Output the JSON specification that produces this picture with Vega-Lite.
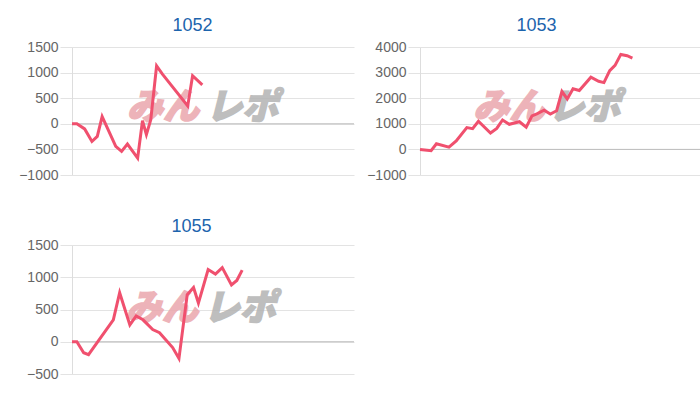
{
  "$schema": "https://vega.github.io/schema/vega-lite/v6.json",
  "background": "white",
  "padding": {"left": 18, "top": 17, "right": 5, "bottom": 5},
  "spacing": 36,
  "datasets": {
    "p1052": [
      {"n": 0, "v": 0}, {"n": 1, "v": 0}, {"n": 2.6, "v": -100}, {"n": 4.1, "v": -345},
      {"n": 5.2, "v": -245}, {"n": 6.2, "v": 140}, {"n": 9, "v": -440}, {"n": 10.2, "v": -540},
      {"n": 11.4, "v": -395}, {"n": 13.5, "v": -670}, {"n": 14.5, "v": 60}, {"n": 15.3, "v": -210},
      {"n": 16.2, "v": 80}, {"n": 17.4, "v": 1130}, {"n": 18.6, "v": 970}, {"n": 23.8, "v": 350},
      {"n": 24.8, "v": 940}, {"n": 26.8, "v": 760}
    ],
    "p1053": [
      {"n": 0, "v": 0}, {"n": 2.3, "v": -50}, {"n": 3.4, "v": 220}, {"n": 6, "v": 90},
      {"n": 7.5, "v": 330}, {"n": 9.7, "v": 850}, {"n": 10.9, "v": 810}, {"n": 12.1, "v": 1100},
      {"n": 14.6, "v": 640}, {"n": 15.9, "v": 820}, {"n": 17.1, "v": 1150}, {"n": 18.5, "v": 980},
      {"n": 20.6, "v": 1080}, {"n": 22, "v": 870}, {"n": 23.2, "v": 1310}, {"n": 24.2, "v": 1390},
      {"n": 25.7, "v": 1530}, {"n": 27, "v": 1380}, {"n": 28.3, "v": 1510}, {"n": 29.4, "v": 2260},
      {"n": 30.5, "v": 1970}, {"n": 31.7, "v": 2370}, {"n": 33, "v": 2300}, {"n": 35.4, "v": 2820},
      {"n": 37, "v": 2660}, {"n": 38.1, "v": 2610}, {"n": 39.3, "v": 3080}, {"n": 40.4, "v": 3280},
      {"n": 41.6, "v": 3710}, {"n": 42.9, "v": 3660}, {"n": 44, "v": 3570}
    ],
    "p1055": [
      {"n": 0, "v": 0}, {"n": 1, "v": 0}, {"n": 2.4, "v": -170}, {"n": 3.4, "v": -200},
      {"n": 8.5, "v": 340}, {"n": 9.8, "v": 760}, {"n": 11.9, "v": 260}, {"n": 13.2, "v": 400},
      {"n": 14.6, "v": 340}, {"n": 16.6, "v": 190}, {"n": 18, "v": 140}, {"n": 20.7, "v": -90},
      {"n": 22, "v": -260}, {"n": 23.7, "v": 730}, {"n": 25, "v": 840}, {"n": 26, "v": 600},
      {"n": 28, "v": 1120}, {"n": 29.5, "v": 1050}, {"n": 30.9, "v": 1150}, {"n": 32.8, "v": 880},
      {"n": 33.9, "v": 950}, {"n": 35, "v": 1110}
    ],
    "one": [{}]
  },
  "vconcat": [
    {
      "spacing": 11,
      "hconcat": [
        {
          "width": 282, "height": 128,
          "title": {"text": "1052", "dx": 6, "offset": 5},
          "layer": [
            {"data": {"name": "p1052"}, "mark": {"type": "line", "color": "#f0506e", "strokeWidth": 3, "opacity": 0},
             "encoding": {
               "x": {"field": "n", "type": "quantitative", "scale": {"domain": [0, 58], "nice": false, "zero": false}, "axis": null},
               "y": {"field": "v", "type": "quantitative", "scale": {"domain": [-1000, 1500], "nice": false}, "axis": {"values": [-1000, -500, 0, 500, 1000, 1500], "tickCount": 20, "grid": true, "format": "d", "labelOverlap": false, "labelFontSize": 14}}
             }},
            {"data": {"name": "one"}, "mark": {"type": "text", "text": "みん", "font": "Noto Sans CJK JP", "fontSize": 36, "fontWeight": 900, "fontStyle": "italic", "color": "#eba6ad", "stroke": "#eba6ad", "strokeWidth": 1.5, "opacity": 0.85},
             "encoding": {"x": {"datum": 18.7, "type": "quantitative"}, "y": {"datum": 300, "type": "quantitative"}}},
            {"data": {"name": "one"}, "mark": {"type": "text", "text": "レポ", "font": "Noto Sans CJK JP", "fontSize": 36, "fontWeight": 900, "fontStyle": "italic", "color": "#b3b3b3", "stroke": "#b3b3b3", "strokeWidth": 1.5, "opacity": 0.85},
             "encoding": {"x": {"datum": 35, "type": "quantitative"}, "y": {"datum": 300, "type": "quantitative"}}},
            {"data": {"name": "one"}, "mark": {"type": "rule", "color": "#bdbdbd", "strokeWidth": 1},
             "encoding": {"y": {"datum": 0, "type": "quantitative"}}},
            {"data": {"name": "p1052"}, "mark": {"type": "line", "color": "#f0506e", "strokeWidth": 3, "strokeJoin": "miter"},
             "encoding": {"x": {"field": "n", "type": "quantitative"}, "y": {"field": "v", "type": "quantitative"}}}
          ]
        },
        {
          "width": 280, "height": 128,
          "title": {"text": "1053", "dx": 3, "offset": 5},
          "layer": [
            {"data": {"name": "p1053"}, "mark": {"type": "line", "color": "#f0506e", "strokeWidth": 3, "opacity": 0},
             "encoding": {
               "x": {"field": "n", "type": "quantitative", "scale": {"domain": [0, 58], "nice": false, "zero": false}, "axis": null},
               "y": {"field": "v", "type": "quantitative", "scale": {"domain": [-1000, 4000], "nice": false}, "axis": {"values": [-1000, 0, 1000, 2000, 3000, 4000], "tickCount": 20, "grid": true, "format": "d", "labelOverlap": false, "labelFontSize": 14}}
             }},
            {"data": {"name": "one"}, "mark": {"type": "text", "text": "みん", "font": "Noto Sans CJK JP", "fontSize": 36, "fontWeight": 900, "fontStyle": "italic", "color": "#eba6ad", "stroke": "#eba6ad", "strokeWidth": 1.5, "opacity": 0.85},
             "encoding": {"x": {"datum": 18.5, "type": "quantitative"}, "y": {"datum": 1610, "type": "quantitative"}}},
            {"data": {"name": "one"}, "mark": {"type": "text", "text": "レポ", "font": "Noto Sans CJK JP", "fontSize": 36, "fontWeight": 900, "fontStyle": "italic", "color": "#b3b3b3", "stroke": "#b3b3b3", "strokeWidth": 1.5, "opacity": 0.85},
             "encoding": {"x": {"datum": 34, "type": "quantitative"}, "y": {"datum": 1610, "type": "quantitative"}}},
            {"data": {"name": "one"}, "mark": {"type": "rule", "color": "#bdbdbd", "strokeWidth": 1},
             "encoding": {"y": {"datum": 0, "type": "quantitative"}}},
            {"data": {"name": "p1053"}, "mark": {"type": "line", "color": "#f0506e", "strokeWidth": 3, "strokeJoin": "miter"},
             "encoding": {"x": {"field": "n", "type": "quantitative"}, "y": {"field": "v", "type": "quantitative"}}}
          ]
        }
      ]
    },
    {
      "hconcat": [
        {
          "width": 282, "height": 129,
          "title": {"text": "1055", "dx": 1, "offset": 2},
          "layer": [
            {"data": {"name": "p1055"}, "mark": {"type": "line", "color": "#f0506e", "strokeWidth": 3, "opacity": 0},
             "encoding": {
               "x": {"field": "n", "type": "quantitative", "scale": {"domain": [0, 58], "nice": false, "zero": false}, "axis": null},
               "y": {"field": "v", "type": "quantitative", "scale": {"domain": [-500, 1500], "nice": false}, "axis": {"values": [-500, 0, 500, 1000, 1500], "tickCount": 20, "grid": true, "format": "d", "labelOverlap": false, "labelFontSize": 14}}
             }},
            {"data": {"name": "one"}, "mark": {"type": "text", "text": "みん", "font": "Noto Sans CJK JP", "fontSize": 36, "fontWeight": 900, "fontStyle": "italic", "color": "#eba6ad", "stroke": "#eba6ad", "strokeWidth": 1.5, "opacity": 0.85},
             "encoding": {"x": {"datum": 18.5, "type": "quantitative"}, "y": {"datum": 510, "type": "quantitative"}}},
            {"data": {"name": "one"}, "mark": {"type": "text", "text": "レポ", "font": "Noto Sans CJK JP", "fontSize": 36, "fontWeight": 900, "fontStyle": "italic", "color": "#b3b3b3", "stroke": "#b3b3b3", "strokeWidth": 1.5, "opacity": 0.85},
             "encoding": {"x": {"datum": 34.5, "type": "quantitative"}, "y": {"datum": 510, "type": "quantitative"}}},
            {"data": {"name": "one"}, "mark": {"type": "rule", "color": "#bdbdbd", "strokeWidth": 1},
             "encoding": {"y": {"datum": 0, "type": "quantitative"}}},
            {"data": {"name": "p1055"}, "mark": {"type": "line", "color": "#f0506e", "strokeWidth": 3, "strokeJoin": "miter"},
             "encoding": {"x": {"field": "n", "type": "quantitative"}, "y": {"field": "v", "type": "quantitative"}}}
          ]
        }
      ]
    }
  ],
  "config": {
    "font": "Liberation Sans",
    "view": {"stroke": null},
    "title": {"font": "Liberation Sans", "fontSize": 18, "fontWeight": "normal", "color": "#1c64ad", "frame": "bounds", "anchor": "middle", "baseline": "alphabetic"},
    "axis": {
      "title": null,
      "labelOverlap": false,
      "labelFont": "Liberation Sans", "labelFontSize": 14, "labelColor": "#666666",
      "gridColor": "#e3e3e3", "domainColor": "#dddddd", "tickColor": "#e3e3e3",
      "tickSize": 12, "labelPadding": 2
    }
  }
}
